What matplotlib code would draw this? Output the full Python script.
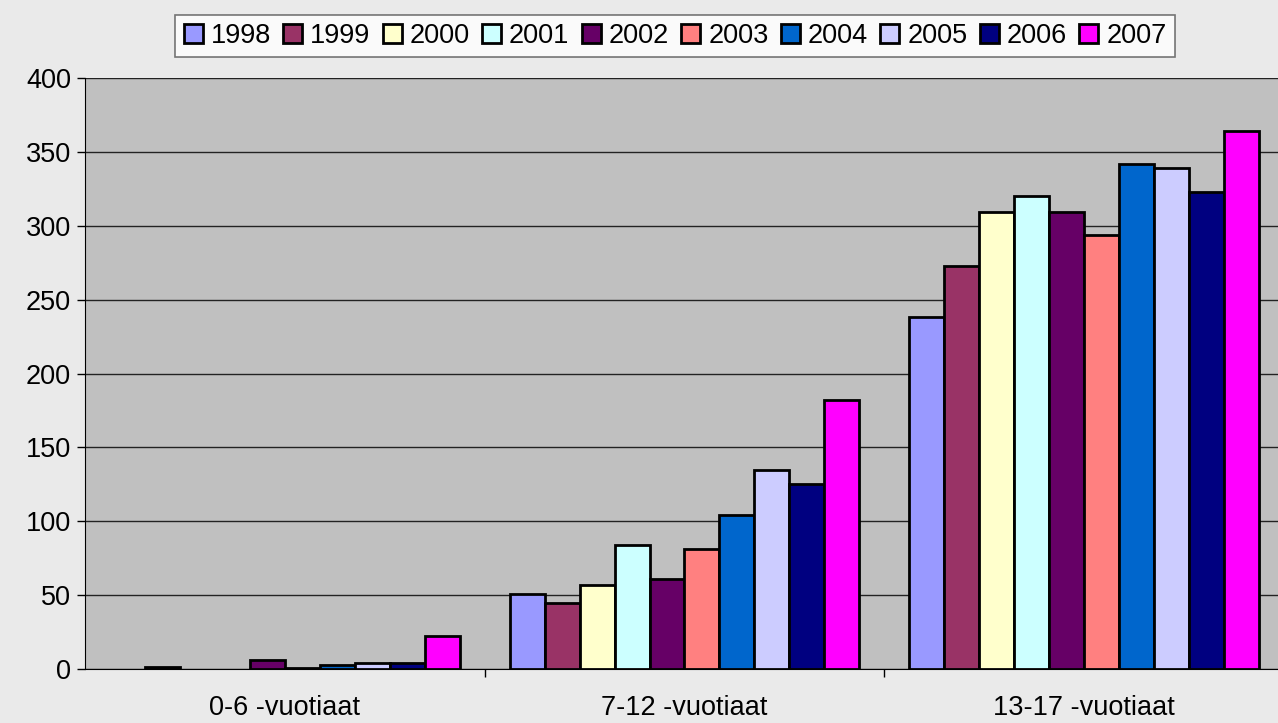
import matplotlib.pyplot as plt
import numpy as np

plt.rcParams['font.family'] = ['Liberation Sans', 'DejaVu Sans']

groups = ['0-6 -vuotiaat', '7-12 -vuotiaat', '13-17 -vuotiaat']
years = ['1998', '1999', '2000', '2001', '2002', '2003', '2004', '2005', '2006', '2007']
colors = ['#9999FF', '#993366', '#FFFFCC', '#CCFFFF', '#660066',
          '#FF8080', '#0066CC', '#CCCCFF', '#000080', '#FF00FF']

v1998 = [0, 51, 238]
v1999 = [1.5, 45, 273]
v2000 = [0, 57, 309]
v2001 = [0, 84, 320]
v2002 = [6, 61, 309]
v2003 = [1, 81, 294]
v2004 = [3, 104, 342]
v2005 = [4, 135, 339]
v2006 = [4, 125, 323]
v2007 = [22, 182, 364]
values = [v1998, v1999, v2000, v2001, v2002, v2003, v2004, v2005, v2006, v2007]

fig = plt.figure(figsize=(12.78, 7.23), dpi=100, facecolor='#EAEAEA')
ax = fig.add_axes([85 / 1278, (723 - 669) / 723, (1278 - 85) / 1278, 591 / 723])
ax.set_facecolor('#C0C0C0')

x = np.arange(len(groups))
w = 0.0875
for i, vals in enumerate(values):
    pos = x - 5 * w + (i + 0.5) * w
    vals = np.array(vals, dtype=float)
    mask = vals > 0
    ax.bar(pos[mask], vals[mask], w, color=colors[i], edgecolor='black',
           linewidth=2.0, label=years[i], zorder=3)

ax.set_xlim(-0.5, 2.485)
ax.set_ylim(0, 400)
ax.set_yticks(range(0, 401, 50))
ax.yaxis.grid(True, color='#222222', linewidth=1.0, zorder=1)
ax.set_xticks(x)
ax.set_xticklabels(groups, fontsize=19.5)
ax.tick_params(axis='x', length=0, pad=19)
ax.set_xticks([0.5, 1.5], minor=True)
ax.tick_params(axis='x', which='minor', length=6, direction='out', width=1)
ax.tick_params(axis='y', labelsize=19.5, length=6, width=1, direction='out', pad=4)
for s in ['top', 'right']:
    ax.spines[s].set_visible(False)
ax.spines['left'].set_color('black')
ax.spines['bottom'].set_color('black')

leg = ax.legend(loc='center', bbox_to_anchor=(675 / 1278, 1 - 36 / 723),
                bbox_transform=fig.transFigure, ncol=10, fontsize=19.5,
                frameon=True, fancybox=False, edgecolor='#555555',
                handlelength=0.7, handleheight=0.7, handletextpad=0.3,
                columnspacing=0.45, borderpad=0.3, borderaxespad=0)
leg.get_frame().set_linewidth(1.2)

fig.savefig('out.png', dpi=100, facecolor=fig.get_facecolor())
